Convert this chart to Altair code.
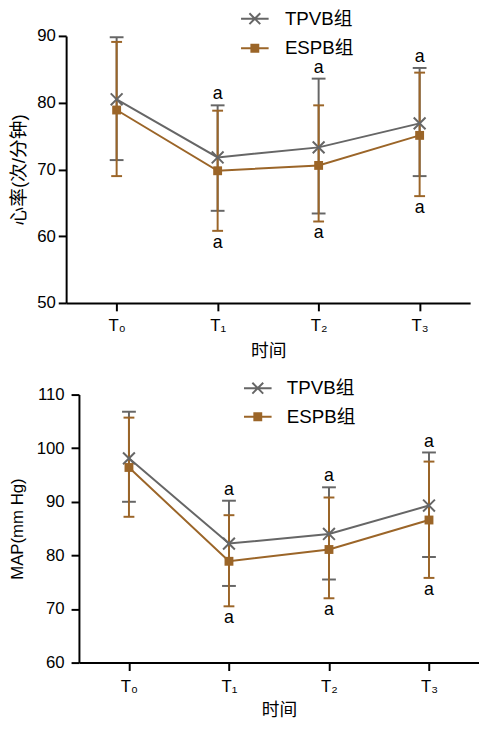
import altair as alt
import pandas as pd

times = ["T₀", "T₁", "T₂", "T₃"]
g_tp = "TPVB组"
g_es = "ESPB组"

hr_tpvb_mean = [80.5, 71.8, 73.3, 76.9]
hr_tpvb_upper = [89.8, 79.6, 83.6, 85.2]
hr_tpvb_lower = [71.4, 63.8, 63.4, 69.0]
hr_espb_mean = [78.9, 69.8, 70.6, 75.1]
hr_espb_upper = [89.1, 78.8, 79.6, 84.5]
hr_espb_lower = [69.0, 60.8, 62.2, 66.0]
hr_sig = [False, True, True, True]
hr_ticks = [50, 60, 70, 80, 90]

map_tpvb_mean = [98.1, 82.2, 84.0, 89.3]
map_tpvb_upper = [106.8, 90.2, 92.7, 99.2]
map_tpvb_lower = [90.0, 74.3, 75.5, 79.7]
map_espb_mean = [96.4, 78.9, 81.1, 86.6]
map_espb_upper = [105.7, 87.5, 90.8, 97.5]
map_espb_lower = [87.2, 70.5, 72.0, 75.8]
map_sig = [False, True, True, True]
map_ticks = [60, 70, 80, 90, 100, 110]

GRAY = "#666666"
BROWN = "#9b6528"
FONT = "Liberation Sans, Noto Sans CJK SC"

X_PATH = "M-1,-1L1,1M-1,1L1,-1"
LEG_TP = "M-2.8,0H2.8M-1.1,-1.1L1.1,1.1M-1.1,1.1L1.1,-1.1"
LEG_ES = "M-2.8,-0.2H2.8V0.2H-2.8ZM-0.9,-0.9H0.9V0.9H-0.9Z"


def panel(tm, th, tl, em, eh, el, sig, ticks, ytitle, ytitle_size, w, h, xrange,
          yoffset, legx, legy1, legy2, laboff, ylabpad, ytitlepad, xlabpad, xtitlepad):
    tp = pd.DataFrame({"time": times, "group": g_tp, "mean": tm, "hi": th, "lo": tl})
    es = pd.DataFrame({"time": times, "group": g_es, "mean": em, "hi": eh, "lo": el})
    ann_top = pd.DataFrame({"time": [t for t, s in zip(times, sig) if s],
                            "v": [v for v, s in zip(th, sig) if s], "txt": "a"})
    ann_bot = pd.DataFrame({"time": [t for t, s in zip(times, sig) if s],
                            "v": [v for v, s in zip(el, sig) if s], "txt": "a"})

    xenc = alt.X("time:N", sort=times,
                 scale=alt.Scale(type="point", padding=0.5, domain=times, range=xrange),
                 axis=alt.Axis(title="时间", labelAngle=0, labelPadding=xlabpad,
                               titlePadding=xtitlepad, titleFontSize=18))
    yscale = alt.Scale(domain=[ticks[0], ticks[-1]], nice=False, zero=False, padding=0)
    yaxis = alt.Axis(title=ytitle, values=ticks, labelPadding=ylabpad,
                     titlePadding=ytitlepad, titleFontSize=ytitle_size, offset=yoffset)

    def yq(f):
        return alt.Y(f, scale=yscale, axis=yaxis)

    layers = []
    for df, c, cw in ((tp, GRAY, 14), (es, BROWN, 11)):
        base = alt.Chart(df)
        layers.append(base.mark_rule(color=c, strokeWidth=2).encode(
            x=xenc, y=yq("lo:Q"), y2="hi:Q"))
        layers.append(base.transform_fold(["lo", "hi"], as_=["k", "v"]).mark_tick(
            color=c, thickness=2, size=cw, opacity=1).encode(x=xenc, y=yq("v:Q")))

    layers.append(alt.Chart(tp).mark_line(strokeWidth=2).encode(
        x=xenc, y=yq("mean:Q"),
        color=alt.Color("group:N", scale=alt.Scale(domain=[g_tp], range=[GRAY]),
                        legend=alt.Legend(title=None, orient="none", legendX=legx,
                                          legendY=legy1, symbolType=LEG_TP,
                                          symbolSize=100, symbolStrokeWidth=2,
                                          labelOffset=laboff, padding=0))))
    layers.append(alt.Chart(es).mark_line(color=BROWN, strokeWidth=2).encode(
        x=xenc, y=yq("mean:Q")))
    layers.append(alt.Chart(tp).mark_point(shape=X_PATH, size=144, color=GRAY,
                                           strokeWidth=2, filled=False, opacity=1).encode(
        x=xenc, y=yq("mean:Q")))
    layers.append(alt.Chart(es).mark_square(size=81, opacity=1).encode(
        x=xenc, y=yq("mean:Q"),
        fill=alt.Fill("group:N", scale=alt.Scale(domain=[g_es], range=[BROWN]),
                      legend=alt.Legend(title=None, orient="none", legendX=legx,
                                        legendY=legy2, symbolType=LEG_ES,
                                        symbolSize=100, symbolStrokeWidth=0,
                                        labelOffset=laboff, padding=0))))
    layers.append(alt.Chart(ann_top).mark_text(dy=-11, fontSize=18, font=FONT,
                                               color="black").encode(
        x=xenc, y=yq("v:Q"), text="txt:N"))
    layers.append(alt.Chart(ann_bot).mark_text(dy=12, fontSize=18, font=FONT,
                                               color="black").encode(
        x=xenc, y=yq("v:Q"), text="txt:N"))

    return alt.layer(*layers).properties(width=w, height=h).resolve_scale(
        color="independent", fill="independent")


top = panel(hr_tpvb_mean, hr_tpvb_upper, hr_tpvb_lower,
            hr_espb_mean, hr_espb_upper, hr_espb_lower, hr_sig, hr_ticks,
            "心率(次/分钟)", 19, 410, 271, [0, 410], 0,
            182, -27, 3, 21, 3, 8, 7, 9)
bottom = panel(map_tpvb_mean, map_tpvb_upper, map_tpvb_lower,
               map_espb_mean, map_espb_upper, map_espb_lower, map_sig, map_ticks,
               "MAP(mm Hg)", 17, 419, 272, [13, 419], -13,
               185, -16, 13, 20, 7, 10, 8, 8)

chart = alt.concat(top, bottom, columns=1, spacing=19,
                   bounds="full").properties(
    padding={"top": -4, "left": 0, "right": 0, "bottom": 0}).configure_view(
    stroke=None).configure_axis(
    grid=False, domainColor="black", domainWidth=2, tickColor="black",
    tickWidth=2, tickSize=8, labelFont=FONT, labelFontSize=17,
    labelColor="black", titleFont=FONT, titleFontSize=17,
    titleFontWeight="normal", titleColor="black").configure_legend(
    labelFont=FONT, labelFontSize=19, labelColor="black")

chart.save("out.html", embed_options={"renderer": "svg", "actions": False})
